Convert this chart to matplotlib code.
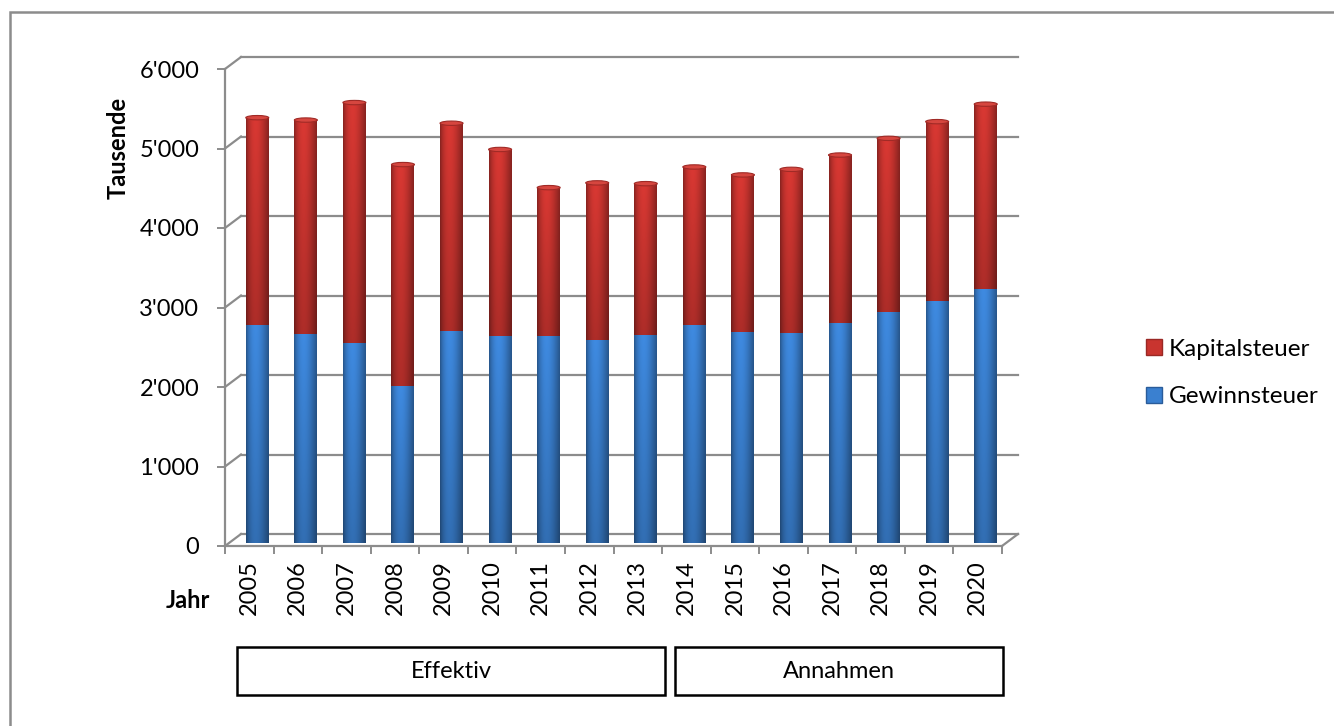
import numpy as np
import matplotlib.pyplot as plt
from matplotlib.patches import Rectangle, Patch, Ellipse
from matplotlib.colors import to_rgb

plt.rcParams['font.family'] = ['Lato', 'DejaVu Sans']

# data (Tausende)
years = [str(y) for y in range(2005, 2021)]
gewinnsteuer = [2745, 2630, 2520, 1970, 2670, 2610, 2600, 2550, 2620,
                2745, 2650, 2645, 2770, 2910, 3050, 3195]
kapitalsteuer = [2605, 2690, 3020, 2790, 2610, 2340, 1870, 1980, 1900,
                 1985, 1980, 2055, 2110, 2180, 2250, 2325]
ytick_vals = [0, 1000, 2000, 3000, 4000, 5000, 6000]
ytick_labels = ["0", "1'000", "2'000", "3'000", "4'000", "5'000", "6'000"]
groups = [("Effektiv", 0, 9), ("Annahmen", 9, 16)]

BLUE = '#3a80d0'
RED = '#c9342f'
GRAY = '#8c8c8c'
W, H = 1334, 726

fig = plt.figure(figsize=(W / 100, H / 100), dpi=100)
ax = fig.add_axes([225 / W, (H - 546) / H, 777 / W, 477 / H])
n = len(years)
ax.set_xlim(0, n)
ax.set_ylim(0, 6000)
for s in ax.spines.values():
    s.set_visible(False)

# pseudo 3d depth offset
DX = 16 / (777 / n)
DY = 12 / (477 / 6000)

# walls, floor, gridlines
for v in ytick_vals:
    ax.plot([DX, n + DX], [v + DY, v + DY], color=GRAY, lw=1.6, clip_on=False, zorder=1)
    ax.plot([0, DX], [v, v + DY], color=GRAY, lw=1.6, clip_on=False, zorder=1)
ax.plot([0, 0], [0, 6000], color=GRAY, lw=1.6, clip_on=False, zorder=1)
ax.plot([0, n], [0, 0], color=GRAY, lw=1.6, clip_on=False, zorder=1)
ax.plot([n, n + DX], [0, DY], color=GRAY, lw=1.6, clip_on=False, zorder=1)


def shaded_bar(x, bottom, height, width, color, z):
    rect = Rectangle((x - width / 2, bottom), width, height, facecolor=color,
                     edgecolor='none', zorder=z)
    ax.add_patch(rect)
    t = np.linspace(0, 1, 40)
    horiz = 0.68 + 0.4 * np.sin(np.pi * t ** 0.8)
    vert = np.linspace(0.8, 1.0, 60)
    img = np.array(to_rgb(color))[None, None, :] * horiz[None, :, None] * vert[:, None, None]
    im = ax.imshow(np.clip(img, 0, 1), extent=[x - width / 2, x + width / 2, bottom, bottom + height],
                   origin='lower', aspect='auto', interpolation='bilinear', zorder=z)
    im.set_clip_path(rect)


lift = 0.25 * DY
bw = 23 / (777 / n)
xs = np.arange(n) + 0.5 + DX / 2
for i in range(n):
    shaded_bar(xs[i], lift, gewinnsteuer[i], bw, BLUE, 3)
    shaded_bar(xs[i], lift + gewinnsteuer[i], kapitalsteuer[i], bw, RED, 3)
    top = lift + gewinnsteuer[i] + kapitalsteuer[i]
    ax.add_patch(Ellipse((xs[i], top), bw, 55, facecolor='#d6463f',
                         edgecolor='#a02a26', lw=0.8, zorder=4, clip_on=False))
ax.set_xlim(0, n)
ax.set_ylim(0, 6000)

# ticks
ax.set_yticks(ytick_vals, ytick_labels)
ax.tick_params(axis='y', length=5.5, width=1.4, color=GRAY, pad=13, labelsize=17)
ax.set_xticks(np.arange(n) + 0.5, years, rotation=90)
ax.set_xticks(np.arange(n + 1), minor=True)
ax.tick_params(axis='x', which='major', length=0, pad=10, labelsize=17)
ax.tick_params(axis='x', which='minor', length=6, width=1.4, color=GRAY)

fig.text(118 / W, 1 - 148 / H, 'Tausende', rotation=90, fontweight='bold',
         fontsize=17, ha='center', va='center')
fig.text(188 / W, 1 - 600 / H, 'Jahr', fontweight='bold', fontsize=17,
         ha='center', va='center')

# group boxes below the axis
y0 = (546 - 695) * 6000 / 477
y1 = (546 - 647) * 6000 / 477
for label, a, b in groups:
    left = a + (0.25 if a == 0 else 0.27)
    right = b + (0.06 if b < n else 0.02)
    ax.add_patch(Rectangle((left, y0), right - left, y1 - y0, fill=False,
                           edgecolor='black', lw=1.8, clip_on=False))
    ax.text((left + right) / 2, (y0 + y1) / 2, label, ha='center', va='center',
            fontsize=17)

fig.legend(handles=[Patch(facecolor=RED, edgecolor='#9a2824', label='Kapitalsteuer'),
                    Patch(facecolor=BLUE, edgecolor='#2a5c9a', label='Gewinnsteuer')],
           loc='center left', bbox_to_anchor=(1124 / W, 1 - 373 / H), frameon=False,
           handlelength=0.65, handleheight=0.65, handletextpad=0.3, labelspacing=1.1,
           fontsize=17.5)

# chart area border (runs off the right and bottom)
fig.add_artist(Rectangle((10 / W, -0.1), 1.2, 1.1 - 12 / H, transform=fig.transFigure,
                         fill=False, edgecolor=GRAY, lw=1.8))

fig.savefig('out.png', dpi=100)
